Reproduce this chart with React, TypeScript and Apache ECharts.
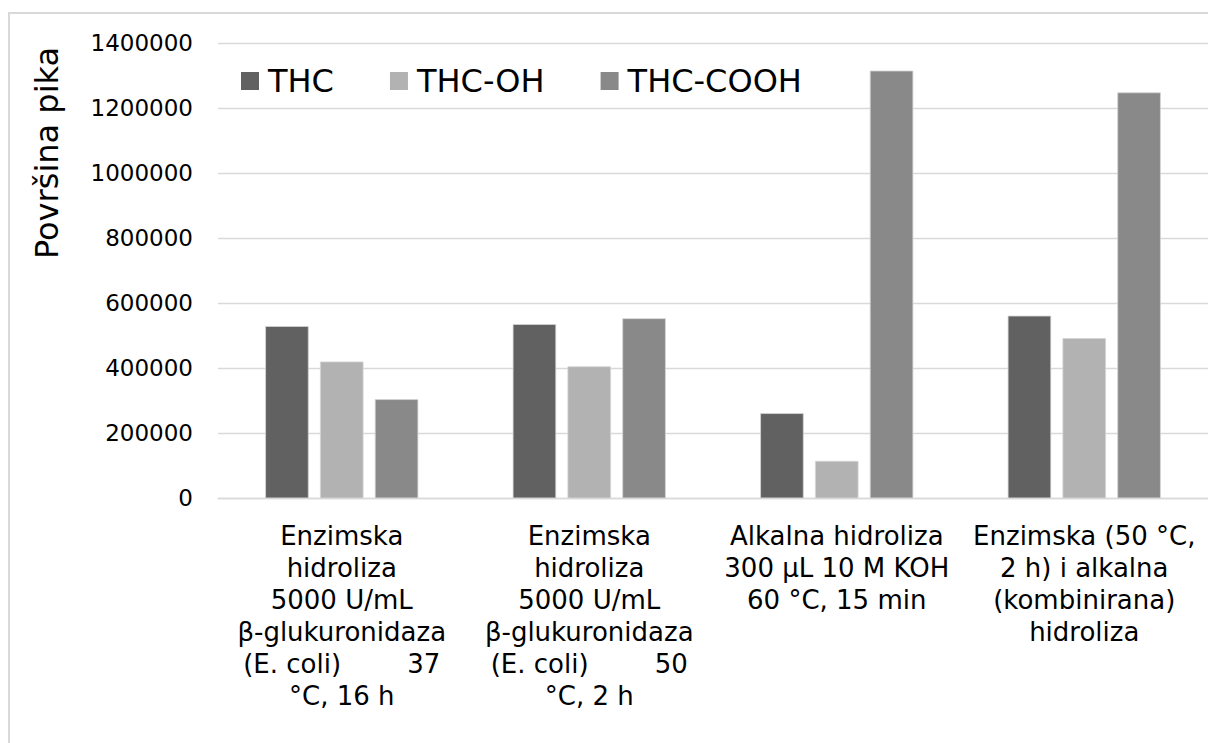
import React, { useEffect, useRef } from "react";
import * as echarts from "echarts";

const NB = "\u00A0";
const categories: string[] = [
  "Enzimska\nhidroliza\n5000 U/mL\nβ-glukuronidaza\n(E. coli)" + NB.repeat(8) + "37\n°C, 16 h",
  "Enzimska\nhidroliza\n5000 U/mL\nβ-glukuronidaza\n(E. coli)" + NB.repeat(8) + "50\n°C, 2 h",
  "Alkalna hidroliza\n300 µL 10 M KOH\n60 °C, 15 min",
  "Enzimska (50 °C,\n2 h) i alkalna\n(kombinirana)\nhidroliza",
];
const seriesNames: string[] = ["THC", "THC-OH", "THC-COOH"];
const thc: number[] = [530000, 536000, 262000, 562000];
const thcOh: number[] = [421000, 406000, 115000, 493000];
const thcCooh: number[] = [305000, 554000, 1316000, 1249000];
const yTicks = { min: 0, max: 1400000, interval: 200000 };
const yTitle = "Površina pika";

const FONT = "DejaVu Sans";
const colors = ["#616161", "#b2b2b2", "#898989"];

export default function App() {
  const ref = useRef<HTMLDivElement>(null);
  useEffect(() => {
    if (!ref.current) return;
    const chart = echarts.init(ref.current, null, { renderer: "svg" });
    const values = [thc, thcOh, thcCooh];
    chart.setOption({
      animation: false,
      backgroundColor: "#ffffff",
      textStyle: { fontFamily: FONT },
      grid: { left: 218, top: 43.3, width: 993, height: 455, containLabel: false },
      legend: {
        left: 236,
        top: 60,
        icon: "rect",
        itemWidth: 18,
        itemHeight: 18,
        itemGap: 56,
        data: seriesNames,
        itemStyle: { borderWidth: 0 },
        textStyle: { fontFamily: FONT, fontSize: 32, color: "#000", padding: [0, 0, 0, 4] },
      },
      xAxis: {
        type: "category",
        data: categories,
        axisLine: { show: true, lineStyle: { color: "#d9d9d9", width: 1.3 } },
        axisTick: { show: false },
        axisLabel: {
          interval: 0,
          margin: 22,
          color: "#000",
          fontFamily: FONT,
          fontSize: 26,
          lineHeight: 32,
          align: "center",
        },
      },
      yAxis: {
        type: "value",
        min: yTicks.min,
        max: yTicks.max,
        interval: yTicks.interval,
        axisLine: { show: false },
        axisTick: { show: false },
        splitLine: { lineStyle: { color: "#d9d9d9", width: 1.3 } },
        axisLabel: {
          margin: 25,
          color: "#000",
          fontFamily: FONT,
          fontSize: 23,
          formatter: (v: number) => String(v),
        },
      },
      graphic: [
        {
          type: "rect",
          shape: { x: 9, y: 13, width: 1400, height: 900 },
          style: { fill: "none", stroke: "#d9d9d9", lineWidth: 2 },
          silent: true,
        },
        {
          type: "text",
          x: 47,
          y: 153,
          rotation: Math.PI / 2,
          style: {
            text: yTitle,
            font: `32px "${FONT}"`,
            fill: "#000",
            textAlign: "center",
            textVerticalAlign: "middle",
          },
        },
      ],
      series: seriesNames.map((name, i) => ({
        name,
        type: "bar",
        data: values[i],
        barWidth: 43.5,
        barGap: "26%",
        itemStyle: { color: colors[i], borderColor: "#d4d4d4", borderWidth: 0.8 },
      })),
    });
    return () => chart.dispose();
  }, []);
  return (
    <div
      ref={ref}
      style={{ position: "fixed", left: 0, top: 0, width: 1208, height: 743 }}
    />
  );
}
